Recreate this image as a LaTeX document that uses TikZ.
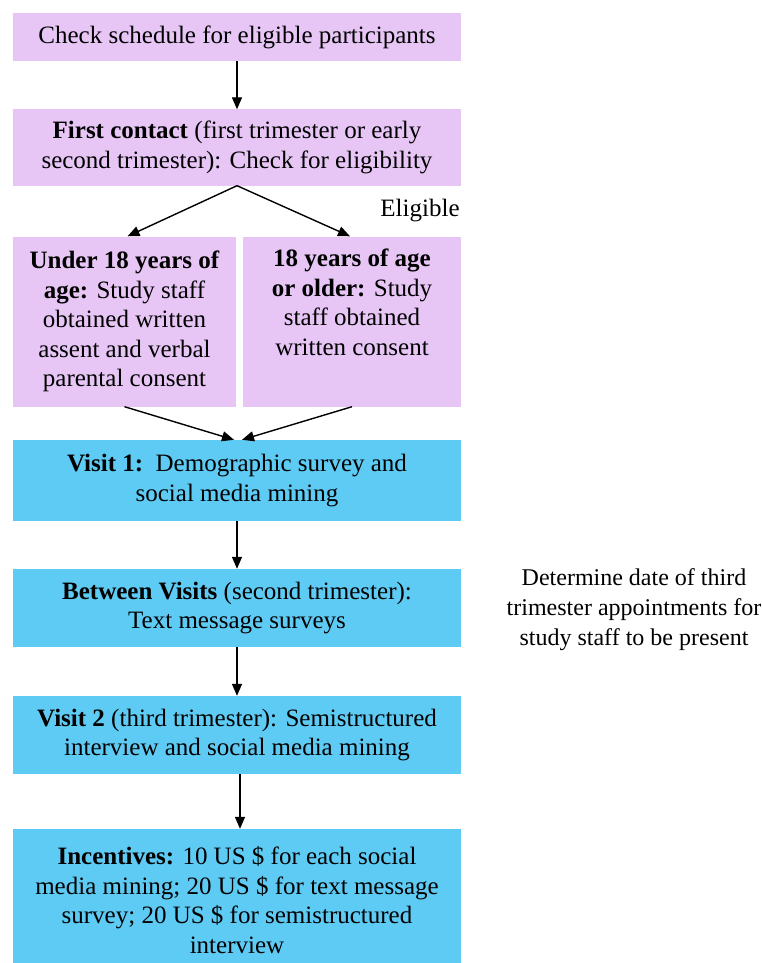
\documentclass[tikz,border=0pt]{standalone}
\usepackage{fontspec}
\setmainfont{LiberationSerif}[Extension=.ttf, UprightFont=*-Regular, BoldFont=*-Bold, ItalicFont=*-Italic, BoldItalicFont=*-BoldItalic]
\usetikzlibrary{arrows.meta,calc}
\definecolor{boxpurple}{RGB}{231,198,246}
\definecolor{boxblue}{RGB}{94,203,244}
\tikzset{
  base/.style={font=\fontsize{25}{29.5}\selectfont, align=center, inner sep=0pt},
  pbox/.style={base, fill=boxpurple, minimum width=448pt},
  bbox/.style={base, fill=boxblue, minimum width=448pt},
  conn/.style={line width=1.4pt, -{Triangle[length=12pt,width=10pt]}},
  plain/.style={base}
}
\begin{document}
\begin{tikzpicture}[x=1pt,y=-1pt]
\clip (0,0) rectangle (762,963);
\fill[white] (0,0) rectangle (762,963);
\node[pbox, minimum height=48pt] (b1) at (237,37) {Check schedule for eligible participants};
\node[pbox, minimum height=76pt] (b2) at (237,147.5) {\textbf{First contact} (first trimester or early\\second trimester): Check for eligibility};
\node[pbox, minimum width=223pt, minimum height=170pt] (ul) at (124.5,321.5) {\textbf{Under 18 years of}\\\textbf{age:} Study staff\\obtained written\\assent and verbal\\parental consent};
\node[pbox, minimum width=218pt, minimum height=170pt] (ur) at (352,321.5) {\textbf{18 years of age}\\\textbf{or older:} Study\\staff obtained\\written consent\\\strut};
\node[plain] (elig) at (420,211) {Eligible};
\node[bbox, minimum height=81pt] (v1) at (237,480.5) {\textbf{Visit 1:}\ \ Demographic survey and\\social media mining};
\node[bbox, minimum height=78pt] (bv) at (237,608) {\textbf{Between Visits} (second trimester):\\Text message surveys};
\node[plain, font=\fontsize{24}{30}\selectfont] (note) at (634,610) {Determine date of third\\trimester appointments for\\study staff to be present};
\node[bbox, minimum height=78pt] (v2) at (237,735) {\textbf{Visit 2} (third trimester): Semistructured\\interview and social media mining};
\node[bbox, minimum height=142pt] (inc) at (237,900) {\textbf{Incentives:} 10 US \$ for each social\\media mining; 20 US \$ for text message\\survey; 20 US \$ for semistructured\\interview};
\draw[conn] (b1.south) -- (b2.north);
\draw[conn] (b2.south) -- ($(ul.north)+(3,0)$);
\draw[conn] (b2.south) -- ($(ur.north)+(-2,0)$);
\draw[conn] (ul.south) -- ($(v1.north)+(-3,0)$);
\draw[conn] (ur.south) -- ($(v1.north)+(5,0)$);
\draw[conn] (v1.south) -- (bv.north);
\draw[conn] (bv.south) -- (v2.north);
\draw[conn] ($(v2.south)+(3,0)$) -- ($(inc.north)+(3,0)$);
\end{tikzpicture}
\end{document}
